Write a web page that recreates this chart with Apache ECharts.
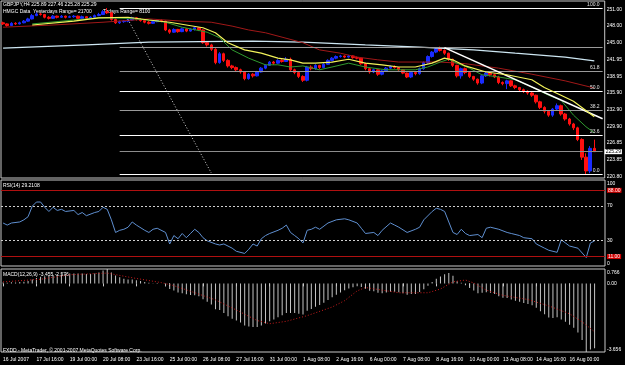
<!DOCTYPE html>
<html>
<head>
<meta charset="utf-8">
<style>
  html, body { margin: 0; padding: 0; background: #000; }
  #main { width: 625px; height: 365px; }
</style>
<script src="https://cdn.jsdelivr.net/npm/echarts@6.0.0/dist/echarts.min.js"></script>
</head>
<body>
<div id="main"></div>
<script>
// ---------- data ----------
var barCount = 145; // 143 bars + 2 empty slots on the right
var firstLabel = '16 Jul 2007';
var monthNames = ['Jan', 'Feb', 'Mar', 'Apr', 'May', 'Jun', 'Jul', 'Aug', 'Sep', 'Oct', 'Nov', 'Dec'];

// H4 candles: [open, close, low, high]
var ohlc = [
  [248.6, 248.4, 248.2, 248.8], [248.4, 248.1, 247.9, 248.5], [248.1, 248.5, 248.0, 248.7], [248.5, 248.4, 248.2, 248.7],
  [248.4, 248.6, 248.3, 248.8], [248.6, 248.9, 248.5, 249.1], [248.9, 249.3, 248.8, 249.5], [249.3, 249.9, 249.2, 250.2],
  [249.9, 250.2, 249.8, 250.5], [250.2, 250.1, 249.9, 250.4], [250.1, 249.6, 249.4, 250.2], [249.6, 249.4, 249.2, 249.8],
  [249.4, 249.8, 249.3, 250.0], [249.8, 249.6, 249.4, 249.9], [249.6, 249.8, 249.5, 250.0], [249.8, 249.6, 249.4, 249.9],
  [249.6, 249.7, 249.5, 249.9], [249.7, 249.8, 249.5, 250.0], [249.8, 249.4, 249.2, 249.9], [249.4, 249.7, 249.3, 249.9],
  [249.7, 249.4, 249.2, 249.8], [249.4, 249.6, 249.3, 249.8], [249.6, 249.9, 249.5, 250.1], [249.9, 250.1, 249.8, 250.4],
  [250.1, 250.6, 250.0, 250.9], [250.6, 250.4, 250.2, 251.27], [250.4, 249.2, 249.0, 250.6], [249.2, 248.6, 248.4, 249.4],
  [248.6, 248.8, 248.4, 249.0], [248.8, 248.9, 248.6, 249.1], [248.9, 249.1, 248.7, 249.3], [249.1, 249.5, 249.0, 249.7],
  [249.5, 249.2, 249.0, 249.6], [249.2, 249.0, 248.8, 249.4], [249.0, 248.7, 248.5, 249.1], [248.7, 248.5, 248.3, 248.9],
  [248.5, 248.8, 248.4, 249.0], [248.8, 249.0, 248.7, 249.2], [249.0, 248.9, 248.7, 249.2], [248.9, 247.3, 247.1, 249.0],
  [247.3, 246.9, 246.6, 247.5], [246.9, 247.4, 246.8, 247.6], [247.4, 247.0, 246.8, 247.5], [247.0, 247.5, 246.9, 247.7],
  [247.5, 247.1, 246.9, 247.6], [247.1, 247.4, 247.0, 247.6], [247.4, 247.7, 247.2, 247.9], [247.7, 247.3, 247.1, 247.8],
  [247.3, 245.0, 244.8, 247.4], [245.0, 244.6, 244.3, 245.3], [244.6, 243.8, 243.5, 244.8], [243.8, 241.4, 241.1, 244.0],
  [241.4, 243.0, 241.2, 243.3], [243.0, 241.8, 241.5, 243.2], [241.8, 240.8, 240.5, 242.0], [240.8, 240.5, 240.2, 241.0],
  [240.5, 240.1, 239.8, 240.7], [240.1, 239.7, 239.4, 240.3], [239.7, 238.5, 238.2, 239.8], [238.5, 239.3, 238.3, 239.5],
  [239.3, 239.0, 238.7, 239.5], [239.0, 239.7, 238.9, 239.9], [239.7, 240.4, 239.6, 240.6], [240.4, 240.9, 240.2, 241.1],
  [240.9, 241.5, 240.8, 241.7], [241.5, 241.3, 241.0, 241.7], [241.3, 241.8, 241.2, 242.0], [241.8, 241.6, 241.4, 242.0],
  [241.6, 242.0, 241.5, 242.4], [242.0, 240.1, 239.9, 242.3], [240.1, 239.6, 239.3, 240.3], [239.6, 238.9, 238.6, 239.8],
  [238.9, 238.2, 237.9, 239.1], [238.2, 240.6, 238.0, 240.8], [240.6, 240.3, 240.0, 240.9], [240.3, 240.9, 240.1, 241.1],
  [240.9, 240.5, 240.2, 241.0], [240.5, 241.1, 240.4, 241.3], [241.1, 241.8, 241.0, 242.0], [241.8, 242.2, 241.6, 242.4],
  [242.2, 242.5, 242.0, 242.7], [242.5, 242.6, 242.3, 242.8], [242.6, 242.4, 242.2, 242.7], [242.4, 242.6, 242.3, 242.8],
  [242.6, 242.3, 242.1, 242.7], [242.3, 242.2, 242.0, 242.5], [242.2, 241.2, 241.0, 242.3], [241.2, 240.3, 240.0, 241.4],
  [240.3, 239.7, 239.4, 240.5], [239.7, 240.1, 239.5, 240.3], [240.1, 239.3, 239.0, 240.2], [239.3, 239.9, 239.1, 240.1],
  [239.9, 240.4, 239.7, 240.6], [240.4, 240.7, 240.2, 240.9], [240.7, 240.5, 240.3, 240.9], [240.5, 240.1, 239.9, 240.6],
  [240.1, 239.5, 239.3, 240.2], [239.5, 238.8, 238.6, 239.6], [238.8, 239.6, 238.6, 239.8], [239.6, 239.4, 239.1, 239.8],
  [239.4, 240.3, 239.2, 240.5], [240.3, 241.4, 240.1, 241.6], [241.4, 242.5, 241.2, 242.7], [242.5, 243.3, 242.3, 243.5],
  [243.3, 243.9, 243.1, 244.2], [243.9, 243.6, 243.4, 244.3], [243.6, 243.1, 242.8, 243.8], [243.1, 242.0, 241.7, 243.2],
  [242.0, 240.9, 240.6, 242.1], [240.9, 239.0, 238.7, 241.0], [239.0, 240.3, 238.5, 240.5], [240.3, 239.6, 239.3, 240.5],
  [239.6, 238.9, 238.6, 239.8], [238.9, 238.4, 238.1, 239.0], [238.4, 237.7, 237.4, 238.5], [237.7, 239.0, 237.5, 239.2],
  [239.0, 239.5, 238.8, 239.7], [239.5, 239.2, 238.9, 239.6], [239.2, 238.8, 238.6, 239.4], [238.8, 237.8, 237.5, 239.0],
  [237.8, 237.6, 237.3, 238.0], [237.6, 238.1, 236.6, 238.3], [238.1, 237.2, 237.0, 238.2], [237.2, 236.9, 236.6, 237.4],
  [236.9, 236.5, 236.2, 237.0], [236.5, 236.2, 235.9, 236.7], [236.2, 235.9, 235.6, 236.4], [235.9, 235.5, 235.2, 236.1],
  [235.5, 234.3, 234.0, 235.6], [234.3, 233.3, 233.0, 234.5], [233.3, 232.6, 232.2, 233.5], [232.6, 231.9, 231.6, 232.8],
  [231.9, 233.0, 231.6, 233.2], [233.0, 233.6, 232.7, 234.0], [233.6, 232.1, 231.8, 233.8], [232.1, 231.2, 230.9, 232.3],
  [231.2, 230.3, 230.0, 231.4], [230.3, 229.6, 229.2, 230.5], [229.6, 227.5, 227.2, 229.8], [227.5, 224.3, 223.8, 227.7],
  [224.3, 221.8, 221.25, 225.0], [221.8, 225.89, 221.4, 226.3], [225.89, 225.29, 225.28, 227.46]
];

// moving averages, read as [bar, price] points
var yellowMA = [[7, 248.2], [17, 248.9], [23, 249.5], [30, 249.6], [35, 249.1], [40, 248.7], [48, 247.7], [51, 246.8],
  [54, 245.0], [58, 243.7], [62, 243.1], [66, 242.2], [69, 241.9], [72, 241.3], [75, 241.3], [79, 241.5], [83, 242.0],
  [87, 241.3], [91, 241.0], [95, 240.6], [99, 240.6], [103, 241.3], [106, 242.2], [108, 241.9], [111, 240.8],
  [116, 239.7], [121, 239.2], [127, 238.3], [130, 236.9], [134, 235.5], [137, 234.4], [142, 231.6]];
var greenMA = [[7, 248.4], [17, 249.1], [23, 249.5], [30, 249.4], [35, 249.1], [39, 248.7], [43, 247.8], [49, 246.9],
  [52, 245.9], [55, 243.7], [59, 242.2], [63, 241.0], [66, 241.0], [69, 240.6], [72, 240.8], [76, 240.1], [79, 240.6],
  [83, 241.3], [87, 240.6], [92, 240.1], [95, 240.1], [99, 240.1], [102, 240.6], [105, 241.5], [107, 242.0],
  [109, 241.3], [112, 240.4], [115, 239.2], [119, 238.8], [123, 238.3], [127, 237.0], [131, 235.5], [134, 234.6],
  [137, 231.9], [140, 229.8], [142, 228.7]];
var redMA = [[0, 247.8], [12, 248.2], [24, 248.7], [35, 249.3], [43, 248.9], [50, 248.7], [55, 248.0], [59, 247.3],
  [63, 246.8], [67, 246.0], [72, 245.0], [76, 243.7], [81, 243.1], [85, 242.4], [90, 241.9], [95, 241.5], [100, 241.5],
  [105, 241.5], [111, 241.2], [119, 240.4], [127, 239.3], [135, 238.1], [142, 236.8]];
var slowMA = [[0, 244.0], [20, 244.6], [35, 245.1], [60, 245.3], [72, 245.1], [87, 244.6], [100, 244.2], [113, 243.7],
  [123, 243.1], [135, 242.4], [142, 241.7]];

// drawn objects
var fibLevels = ['100.0', '76.4', '61.8', '50.0', '38.2', '23.6', '0.0'];
var fibPrices = [251.27, 244.19, 239.80, 236.26, 232.73, 228.33, 221.25];
var fibStart = 28;
var fibEnd = 144;
var trendLine = [[106, 244.10], [144, 231.24]];
var dottedLine = [[30, 249.2], [50, 221.44]];
var bidPrice = 225.29;
var priceTicks = [251.00, 248.00, 245.00, 241.95, 238.95, 235.90, 232.90, 229.90, 226.85, 223.85, 220.80];

// RSI(14) as [bar, value]
var rsi = [[0, 50.0], [1, 47.6], [2, 50.0], [4, 51.2], [5, 53.7], [6, 57.3], [7, 69.5], [8, 74.4], [9, 74.4], [10, 68.3],
  [11, 63.4], [12, 68.3], [13, 64.6], [14, 65.9], [15, 63.4], [17, 64.6], [18, 59.8], [19, 62.2], [20, 58.5], [22, 62.2],
  [23, 63.4], [24, 68.3], [25, 65.9], [26, 53.7], [27, 39.0], [28, 41.5], [29, 42.7], [30, 45.1], [31, 51.2], [32, 47.6],
  [34, 41.5], [35, 39.0], [36, 42.7], [37, 43.9], [39, 39.0], [40, 25.6], [41, 35.4], [42, 31.7], [43, 37.8], [44, 32.9],
  [45, 37.8], [46, 42.7], [47, 39.0], [48, 32.9], [49, 29.3], [51, 25.6], [52, 24.4], [53, 25.6], [55, 20.7], [56, 17.1],
  [58, 14.6], [59, 19.5], [60, 25.6], [61, 23.2], [62, 31.7], [63, 35.4], [64, 37.8], [66, 41.5], [67, 43.9], [68, 47.6],
  [69, 39.0], [70, 35.4], [71, 31.7], [72, 26.8], [73, 41.5], [74, 42.7], [75, 45.1], [76, 42.7], [78, 50.0], [80, 53.7],
  [82, 54.9], [83, 53.7], [85, 50.0], [86, 43.9], [87, 37.8], [89, 39.0], [90, 35.4], [91, 41.5], [93, 50.0], [94, 47.6],
  [95, 45.1], [97, 39.0], [99, 42.7], [100, 45.1], [101, 53.7], [103, 63.4], [104, 67.1], [105, 65.9], [106, 63.4],
  [108, 39.0], [109, 36.6], [110, 42.7], [111, 37.8], [112, 35.4], [114, 36.6], [115, 32.9], [116, 43.9], [117, 45.1],
  [119, 42.7], [121, 39.0], [122, 37.8], [124, 35.4], [125, 32.9], [127, 31.7], [128, 25.6], [130, 20.7], [131, 18.3],
  [133, 15.9], [134, 30.5], [135, 26.8], [136, 23.2], [138, 20.7], [140, 9.8], [141, 26.8], [142, 29.2]];
var rsiTicks = [0, 30, 70, 100];
var rsiRedLevels = [88, 11];

// MACD(12,26,9): main histogram per bar, signal as [bar, value]
var macdMain = [
  0.05, 0.04, 0.06, 0.05, 0.07, 0.09, 0.13, 0.20, 0.28, 0.35,
  0.38, 0.40, 0.44, 0.47, 0.49, 0.50, 0.52, 0.53, 0.52, 0.52,
  0.50, 0.50, 0.53, 0.58, 0.68, 0.766, 0.58, 0.42, 0.32, 0.25,
  0.21, 0.20, 0.17, 0.13, 0.08, 0.03, 0.01, 0.02, -0.01, -0.16,
  -0.30, -0.38, -0.48, -0.52, -0.58, -0.62, -0.63, -0.68, -0.85, -0.98,
  -1.12, -1.38, -1.42, -1.58, -1.75, -1.88, -1.98, -2.08, -2.25, -2.30,
  -2.33, -2.32, -2.25, -2.14, -2.02, -1.92, -1.80, -1.70, -1.58, -1.58,
  -1.58, -1.62, -1.66, -1.46, -1.36, -1.24, -1.15, -1.03, -0.88, -0.74,
  -0.60, -0.48, -0.37, -0.27, -0.20, -0.15, -0.19, -0.29, -0.39, -0.42,
  -0.50, -0.52, -0.49, -0.45, -0.44, -0.47, -0.52, -0.60, -0.57, -0.56,
  -0.46, -0.31, -0.13, 0.07, 0.24, 0.37, 0.48, 0.55, 0.40, 0.12,
  0.03, -0.10, -0.25, -0.38, -0.53, -0.50, -0.47, -0.50, -0.56, -0.68,
  -0.76, -0.78, -0.86, -0.92, -0.98, -1.04, -1.10, -1.16, -1.30, -1.48,
  -1.65, -1.82, -1.84, -1.80, -1.92, -2.05, -2.20, -2.36, -2.62, -3.02,
  -3.656, -3.52, -3.455];
var macdSignal = [[0, 0.08], [9, 0.22], [16, 0.46], [25, 0.55], [31, 0.30], [38, 0.04], [41, -0.12], [45, -0.42],
  [51, -0.88], [56, -1.42], [61, -1.98], [64, -2.15], [68, -2.02], [73, -1.72], [79, -1.26], [82, -0.92], [85, -0.40],
  [87, -0.22], [91, -0.36], [95, -0.50], [102, -0.50], [105, -0.30], [108, 0.08], [111, 0.18], [113, 0.02],
  [116, -0.36], [120, -0.64], [126, -0.86], [131, -1.20], [136, -1.62], [139, -2.05], [142, -2.576]];
var macdTicks = [0.766, 0, -3.656];

// ---------- H4 time axis (weekends skipped) ----------
var categories = [];
var t = Date.UTC(2007, 6, 16, 8);
while (categories.length < barCount) {
  var d = new Date(t);
  var wd = d.getUTCDay();
  if (wd !== 0 && wd !== 6) {
    var hh = d.getUTCHours();
    categories.push(d.getUTCDate() + ' ' + monthNames[d.getUTCMonth()] + ' ' + (hh < 10 ? '0' : '') + hh + ':00');
  }
  t += 4 * 3600 * 1000;
}

var FONT = 'Liberation Sans';
var small = { color: '#ffffff', fontSize: 5, fontFamily: FONT };
function every8(i) { return i % 8 === 0 && i <= 136; }

// edge labels of the sub windows sit inside the window, like the terminal draws them
var edgeRich = {
  top: { fontSize: 5, fontFamily: FONT, color: '#fff', padding: [7, 0, 0, 0] },
  bottom: { fontSize: 5, fontFamily: FONT, color: '#fff', padding: [0, 0, 5, 0] }
};

var fibLines = fibLevels.map(function (lv, i) {
  var bright = lv === '100.0' || lv === '50.0' || lv === '23.6' || lv === '0.0';
  return [
    {
      coord: [fibStart, fibPrices[i]],
      lineStyle: { color: bright ? '#ffffff' : '#9a9a9a', width: 1, type: 'solid' },
      label: { show: lv !== '76.4', formatter: lv, position: 'insideEndTop', distance: [3, 1], color: '#e0e0e0', fontSize: 5, fontFamily: FONT }
    },
    { coord: [fibEnd, fibPrices[i]] }
  ];
});
fibLines.push([
  {
    coord: [fibStart, bidPrice],
    lineStyle: { color: '#8c8c8c', width: 1, type: 'solid' },
    label: { show: true, position: 'end', distance: 2, formatter: bidPrice.toFixed(2), color: '#000', backgroundColor: '#fff', padding: [0, 1, 0, 1], fontSize: 5, fontFamily: FONT }
  },
  { coord: [fibEnd, bidPrice] }
]);
fibLines.push([
  { coord: trendLine[0], lineStyle: { color: '#ffffff', width: 1.5, type: 'solid' }, label: { show: false } },
  { coord: trendLine[1] }
]);
fibLines.push([
  { coord: dottedLine[0], lineStyle: { color: '#d8d8d8', width: 1, type: [1, 2] }, label: { show: false } },
  { coord: dottedLine[1] }
]);

var rsiLines = [
  { yAxis: 70, lineStyle: { color: '#d0d0d0', type: [2, 2], width: 1 }, label: { show: false } },
  { yAxis: 30, lineStyle: { color: '#d0d0d0', type: [2, 2], width: 1 }, label: { show: false } }
];
rsiRedLevels.forEach(function (v) {
  rsiLines.push({
    yAxis: v,
    lineStyle: { color: '#b01010', type: 'solid', width: 1 },
    label: { show: true, position: 'end', distance: 2, formatter: v.toFixed(2), color: '#fff', backgroundColor: '#d00000', padding: [0, 1, 0, 1], fontSize: 5, fontFamily: FONT }
  });
});

var chartDom = document.getElementById('main');
var myChart = echarts.init(chartDom);
var option;

option = {
  backgroundColor: '#000000',
  animation: false,
  grid: [
    { left: 1, right: 20, top: 1, height: 177, show: true, borderColor: '#c8c8c8', borderWidth: 1 },
    { left: 1, right: 20, top: 180, height: 86, show: true, borderColor: '#c8c8c8', borderWidth: 1 },
    { left: 1, right: 20, top: 269, height: 83, show: true, borderColor: '#c8c8c8', borderWidth: 1 }
  ],
  xAxis: [0, 1, 2].map(function (g) {
    return {
      type: 'category',
      gridIndex: g,
      data: categories,
      boundaryGap: true,
      axisLine: { show: false },
      axisTick: {
        show: g === 2,
        alignWithLabel: true,
        interval: every8,
        length: 3,
        lineStyle: { color: '#c8c8c8' }
      },
      axisLabel: {
        show: g === 2,
        interval: every8,
        align: 'left',
        margin: 5,
        color: '#ffffff',
        fontSize: 5,
        fontFamily: FONT,
        formatter: function (value, index) {
          return index === 0 ? firstLabel : value;
        }
      },
      splitLine: { show: false }
    };
  }),
  yAxis: [
    {
      gridIndex: 0,
      position: 'right',
      min: 220.53,
      max: 252.54,
      splitLine: { show: false },
      axisLine: { show: false },
      axisTick: { show: false },
      axisLabel: Object.assign({ customValues: priceTicks, margin: 2, formatter: function (v) { return v.toFixed(2); } }, small)
    },
    {
      gridIndex: 1,
      position: 'right',
      min: 0,
      max: 100,
      splitLine: { show: false },
      axisLine: { show: false },
      axisTick: { show: false },
      axisLabel: Object.assign({
        customValues: rsiTicks,
        margin: 2,
        rich: edgeRich,
        formatter: function (v) {
          if (v === 100) return '{top|100}';
          if (v === 0) return '{bottom|0}';
          return String(v);
        }
      }, small)
    },
    {
      gridIndex: 2,
      position: 'right',
      min: -3.656,
      max: 0.766,
      splitLine: { show: false },
      axisLine: { show: false },
      axisTick: { show: false },
      axisLabel: Object.assign({
        customValues: macdTicks,
        margin: 2,
        rich: edgeRich,
        formatter: function (v) {
          if (v === 0) return '0.00';
          if (v > 0) return '{top|' + v.toFixed(3) + '}';
          return '{bottom|' + v.toFixed(3) + '}';
        }
      }, small)
    }
  ],
  graphic: [
    { type: 'text', left: 3, top: 2, style: { text: 'GBPJPY,H4 225.89 227.46 225.28 225.29', fill: '#fff', font: '5px "Liberation Sans"' } },
    { type: 'text', left: 3, top: 9, style: { text: 'HMGC Data', fill: '#fff', font: '5px "Liberation Sans"' } },
    { type: 'text', left: 33, top: 9, style: { text: 'Yesterdays Range= 21700', fill: '#fff', font: '5px "Liberation Sans"' } },
    { type: 'text', left: 103, top: 9, style: { text: 'Todays Range= 8100', fill: '#fff', font: '5px "Liberation Sans"' } },
    { type: 'text', left: 3, top: 183, style: { text: 'RSI(14) 29.2108', fill: '#fff', font: '5px "Liberation Sans"' } },
    { type: 'text', left: 3, top: 272, style: { text: 'MACD(12,26,9) -3.455 -2.576', fill: '#fff', font: '5px "Liberation Sans"' } },
    { type: 'text', left: 3, top: 348, style: { text: 'FXDD - MetaTrader, \u00a9 2001-2007 MetaQuotes Software Corp.', fill: '#fff', font: '5px "Liberation Sans"' } }
  ],
  series: [
    {
      name: 'GBPJPY',
      type: 'candlestick',
      xAxisIndex: 0,
      yAxisIndex: 0,
      data: ohlc,
      barWidth: 3,
      silent: true,
      itemStyle: {
        color: '#1a2cff',
        color0: '#ff1010',
        borderColor: '#1a2cff',
        borderColor0: '#ff1010',
        borderWidth: 1
      }
    },
    {
      name: 'slow MA',
      type: 'line',
      xAxisIndex: 0,
      yAxisIndex: 0,
      data: slowMA,
      symbol: 'none',
      silent: true,
      z: 3,
      lineStyle: { color: '#cde6f2', width: 1.2 },
      // fibo levels, bid line and trend lines
      markLine: {
        silent: true,
        symbol: ['none', 'none'],
        data: fibLines
      }
    },
    {
      name: 'red MA',
      type: 'line',
      xAxisIndex: 0,
      yAxisIndex: 0,
      data: redMA,
      symbol: 'none',
      silent: true,
      z: 3,
      lineStyle: { color: '#a01818', width: 1 }
    },
    {
      name: 'green MA',
      type: 'line',
      xAxisIndex: 0,
      yAxisIndex: 0,
      data: greenMA,
      symbol: 'none',
      silent: true,
      z: 4,
      lineStyle: { color: '#2f9a2f', width: 1 }
    },
    {
      name: 'yellow MA',
      type: 'line',
      xAxisIndex: 0,
      yAxisIndex: 0,
      data: yellowMA,
      symbol: 'none',
      silent: true,
      z: 5,
      lineStyle: { color: '#f2f25a', width: 1.2 }
    },
    {
      name: 'RSI',
      type: 'line',
      xAxisIndex: 1,
      yAxisIndex: 1,
      data: rsi,
      symbol: 'none',
      silent: true,
      lineStyle: { color: '#5f8fd0', width: 1 },
      markLine: {
        silent: true,
        symbol: ['none', 'none'],
        data: rsiLines
      }
    },
    {
      name: 'MACD',
      type: 'bar',
      xAxisIndex: 2,
      yAxisIndex: 2,
      data: macdMain,
      barWidth: 1,
      silent: true,
      itemStyle: { color: '#c4c4c4' }
    },
    {
      name: 'Signal',
      type: 'line',
      xAxisIndex: 2,
      yAxisIndex: 2,
      data: macdSignal,
      symbol: 'none',
      silent: true,
      z: 4,
      lineStyle: { color: '#c81c1c', width: 1, type: [1, 2] }
    }
  ]
};

option && myChart.setOption(option);
</script>
</body>
</html>
